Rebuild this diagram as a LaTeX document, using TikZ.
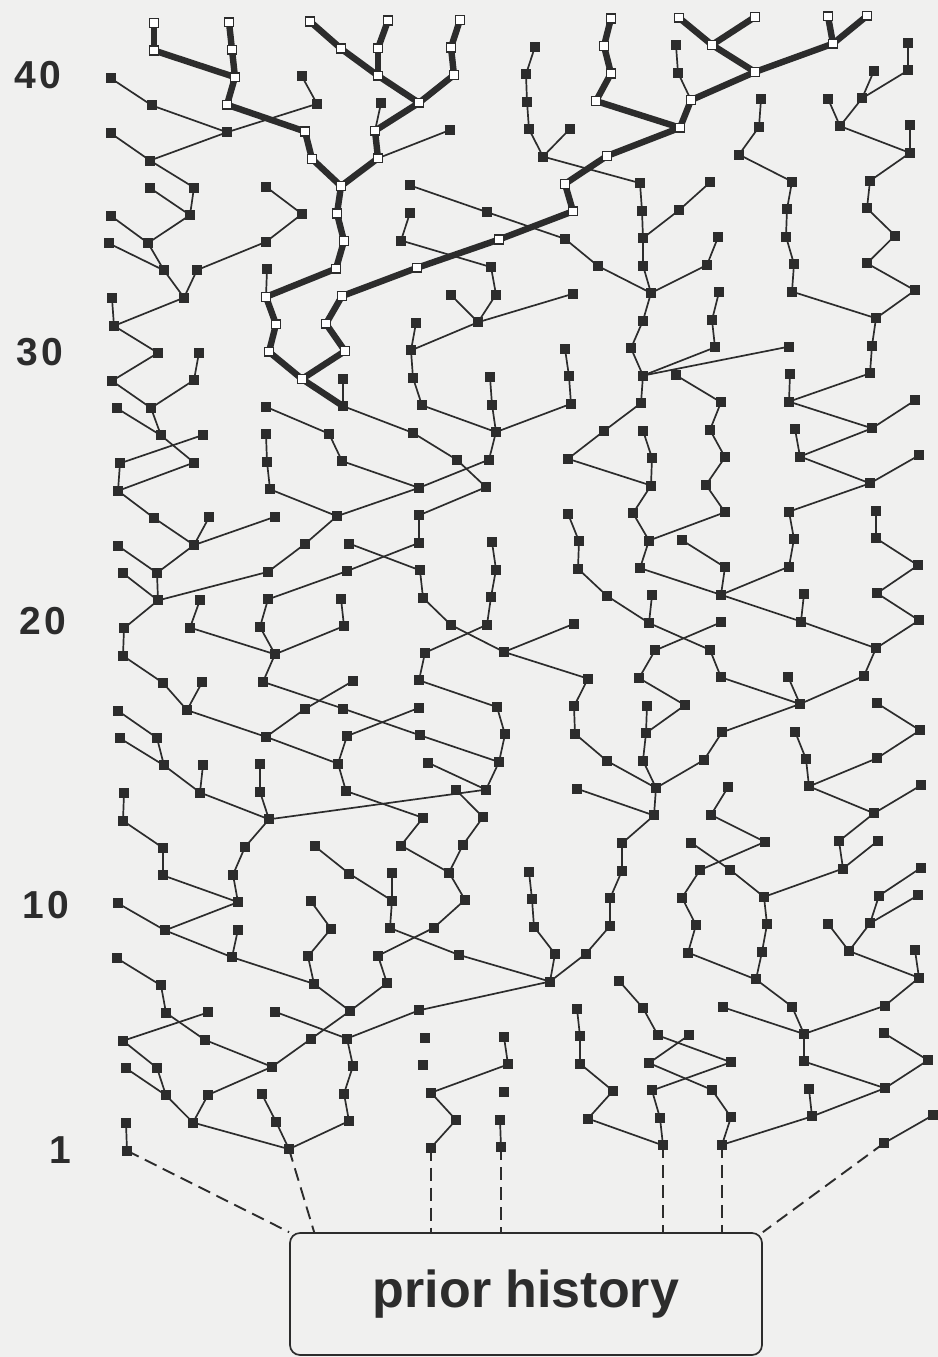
\documentclass[tikz,border=0pt]{standalone}
\usepackage{fontspec}
\setmainfont{Liberation Sans}
\usetikzlibrary{calc}
\definecolor{paper}{HTML}{F0F0EF}
\definecolor{ink}{HTML}{2C2C2C}
\pgfdeclarelayer{paperlayer}
\pgfdeclarelayer{edgelayer}
\pgfsetlayers{paperlayer,edgelayer,main}
\tikzset{
  sqb/.style={rectangle, fill=ink, inner sep=0pt, minimum width=5.4pt, minimum height=5pt},
  sqw/.style={rectangle, fill=white, draw=ink, line width=0.75pt, inner sep=0pt, minimum width=4.7pt, minimum height=4.4pt},
  thn/.style={draw=ink, line width=0.85pt},
  thk/.style={draw=ink, line width=3.2pt},
  dsh/.style={draw=ink, line width=0.95pt, dash pattern=on 6.5pt off 3.5pt},
  lbl/.style={font=\bfseries\fontsize{19.5}{20}\selectfont, text=ink, inner sep=0pt},
  pbox/.style={draw=ink, line width=0.85pt, rounded corners=5pt, minimum width=236pt, minimum height=61pt, inner sep=0pt,
    font=\bfseries\fontsize{26}{27}\selectfont, text=ink}
}
\newcommand\RowData[2]{\expandafter\def\csname rd#1\endcsname{#2}}
\RowData{42}{154/154/1,229/232/1,310/341/1,388/378/1,460/451/1,611/604/1,679/712/1,755/712/1,828/833/1,867/833/1}
\RowData{41}{154/235/1,232/235/1,341/378/1,378/378/1,451/454/1,535/526/0,604/611/1,676/678/0,712/755/1,833/755/1,908/908/0}
\RowData{40}{111/152/0,235/227/1,302/317/0,378/419/1,454/419/1,526/527/0,611/596/1,678/691/0,755/691/1,874/862/0,908/862/0}
\RowData{39}{152/227/0,227/305/1,317/227/0,381/375/0,419/375/1,527/529/0,596/680/1,691/680/1,761/759/0,828/840/0,862/840/0}
\RowData{38}{111/150/0,227/150/0,305/312/1,375/378/1,450/378/0,529/543/0,570/543/0,680/607/1,759/739/0,840/910/0,910/910/0}
\RowData{37}{150/194/0,312/341/1,378/341/1,543/640/0,607/565/1,739/792/0,910/870/0}
\RowData{36}{150/190/0,194/190/0,266/302/0,341/337/1,410/487/0,565/573/1,640/642/0,710/679/0,792/787/0,870/867/0}
\RowData{35}{111/148/0,190/148/0,302/266/0,337/344/1,410/401/0,487/565/0,573/499/1,642/643/0,679/643/0,787/786/0,867/895/0}
\RowData{34}{109/164/0,148/164/0,266/197/0,344/336/1,401/491/0,499/417/1,565/598/0,643/643/0,718/707/0,786/794/0,895/867/0}
\RowData{33}{164/184/0,197/184/0,267/266/0,336/266/1,417/342/1,491/496/0,598/651/0,643/651/0,707/651/0,794/792/0,867/915/0}
\RowData{32}{112/114/0,184/114/0,266/276/1,342/326/1,451/478/0,496/478/0,573/478/0,651/643/0,719/712/0,792/876/0,915/876/0}
\RowData{31}{114/158/0,276/269/1,326/345/1,416/411/0,478/411/0,643/631/0,712/715/0,876/872/0}
\RowData{30}{158/112/0,199/194/0,269/302/1,345/302/1,411/413/0,565/569/0,631/643/0,715/643/0,789/643/0,872/870/0}
\RowData{29}{112/151/0,194/151/0,302/343/1,343/343/0,413/422/0,490/492/0,569/571/0,643/641/0,676/721/0,790/789/0,870/789/0}
\RowData{28}{117/161/0,151/161/0,266/329/0,343/413/0,422/496/0,492/496/0,571/496/0,641/604/0,721/710/0,789/872/0,915/872/0}
\RowData{27}{161/194/0,203/120/0,266/267/0,329/342/0,413/457/0,496/489/0,604/568/0,643/652/0,710/725/0,795/800/0,872/800/0}
\RowData{26}{120/118/0,194/118/0,267/270/0,342/419/0,457/486/0,489/419/0,568/651/0,652/651/0,725/706/0,800/870/0,919/870/0}
\RowData{25}{118/154/0,270/337/0,419/337/0,486/419/0,651/633/0,706/725/0,870/789/0}
\RowData{24}{154/194/0,209/194/0,275/194/0,337/305/0,419/419/0,568/579/0,633/649/0,725/649/0,789/794/0,876/876/0}
\RowData{23}{118/157/0,194/157/0,305/268/0,349/420/0,419/347/0,492/496/0,579/578/0,649/640/0,682/725/0,794/789/0,876/918/0}
\RowData{22}{123/158/0,157/158/0,268/158/0,347/268/0,420/423/0,496/491/0,578/607/0,640/721/0,725/721/0,789/721/0,918/877/0}
\RowData{21}{158/124/0,200/190/0,268/260/0,341/344/0,423/451/0,491/487/0,607/649/0,652/649/0,721/801/0,804/801/0,877/919/0}
\RowData{20}{124/123/0,190/275/0,260/275/0,344/275/0,451/504/0,487/425/0,574/504/0,649/710/0,721/655/0,801/876/0,919/876/0}
\RowData{19}{123/163/0,275/263/0,425/419/0,504/588/0,655/639/0,710/721/0,876/864/0}
\RowData{18}{163/187/0,202/187/0,263/343/0,353/305/0,419/497/0,588/574/0,639/685/0,721/800/0,788/800/0,864/800/0}
\RowData{17}{118/157/0,187/266/0,305/266/0,343/420/0,419/347/0,497/505/0,574/575/0,647/646/0,685/646/0,800/722/0,877/920/0}
\RowData{16}{120/164/0,157/164/0,266/338/0,347/338/0,420/499/0,505/499/0,575/607/0,646/643/0,722/704/0,795/806/0,920/877/0}
\RowData{15}{164/200/0,203/200/0,260/260/0,338/346/0,428/486/0,499/486/0,607/656/0,643/656/0,704/656/0,806/809/0,877/809/0}
\RowData{14}{124/123/0,200/269/0,260/269/0,346/423/0,456/483/0,486/269/0,577/654/0,656/654/0,728/711/0,809/874/0,921/874/0}
\RowData{13}{123/163/0,269/245/0,423/401/0,483/463/0,654/622/0,711/765/0,874/839/0}
\RowData{12}{163/163/0,245/233/0,315/349/0,401/449/0,463/449/0,622/622/0,691/730/0,765/700/0,839/843/0,878/843/0}
\RowData{11}{163/238/0,233/238/0,349/392/0,392/392/0,449/465/0,529/532/0,622/610/0,700/682/0,730/764/0,843/764/0,921/879/0}
\RowData{10}{118/165/0,238/165/0,311/331/0,392/390/0,465/434/0,532/534/0,610/610/0,682/696/0,764/767/0,879/870/0,918/870/0}
\RowData{9}{165/232/0,238/232/0,331/308/0,390/459/0,434/378/0,534/555/0,610/586/0,696/688/0,767/762/0,828/849/0,870/849/0}
\RowData{8}{117/161/0,232/314/0,308/314/0,378/387/0,459/550/0,555/550/0,586/550/0,688/756/0,762/756/0,849/919/0,915/919/0}
\RowData{7}{161/166/0,314/350/0,387/350/0,550/419/0,619/643/0,756/792/0,919/885/0}
\RowData{6}{166/205/0,208/123/0,275/347/0,350/311/0,419/347/0,577/580/0,643/658/0,723/804/0,792/804/0,885/804/0}
\RowData{5}{123/157/0,205/272/0,311/272/0,347/353/0,425/0/0,504/508/0,580/580/0,658/731/0,689/649/0,804/804/0,884/928/0}
\RowData{4}{126/166/0,157/166/0,272/208/0,353/344/0,423/0/0,508/431/0,580/613/0,649/712/0,731/652/0,804/885/0,928/885/0}
\RowData{3}{166/193/0,208/193/0,262/276/0,344/349/0,431/456/0,504/0/0,613/588/0,652/660/0,712/731/0,809/812/0,885/812/0}
\RowData{2}{126/127/0,193/289/0,276/289/0,349/289/0,456/431/0,500/501/0,588/663/0,660/663/0,731/722/0,812/722/0,933/884/0}
\RowData{1}{127/0/0,289/0/0,431/0/0,501/0/0,663/0/0,722/0/0,884/0/0}
\begin{document}
\begin{tikzpicture}[x=0.5pt,y=0.5pt]
\useasboundingbox (0,0) rectangle (938,-1357);
\begin{pgfonlayer}{paperlayer}
  \fill[paper] (0,0) rectangle (938,-1357);
\end{pgfonlayer}
% nodes
\foreach \rw in {1,...,42}{
  \expandafter\let\expandafter\curlist\csname rd\rw\endcsname
  \foreach \cx/\cp/\ct in \curlist {
    \pgfmathsetmacro\cy{-1147+(\rw-1)*27.5+0.01*(\cx-500)}
    \ifnum\ct=1
      \node[sqw] (n\rw-\cx) at (\cx,\cy) {};
    \else
      \node[sqb] (n\rw-\cx) at (\cx,\cy) {};
    \fi
  }
}
% connectors
\begin{pgfonlayer}{edgelayer}
\foreach \rw in {2,...,42}{
  \pgfmathtruncatemacro\prw{\rw-1}
  \expandafter\let\expandafter\curlist\csname rd\rw\endcsname
  \foreach \cx/\cp/\ct in \curlist {
    \ifnum\cp>0
      \ifnum\ct=1
        \draw[thk] (n\rw-\cx.center) -- (n\prw-\cp.center);
      \else
        \draw[thn] (n\rw-\cx.center) -- (n\prw-\cp.center);
      \fi
    \fi
  }
}
\end{pgfonlayer}
% generation labels
\node[lbl] (l40) at (38,-75) {4\kern1.5pt0};
\node[lbl] (l30) at (40,-352) {3\kern1.5pt0};
\node[lbl] (l20) at (43,-621) {2\kern1.5pt0};
\node[lbl] (l10) at (46,-905) {1\kern1.5pt0};
\node[lbl] (l1) at (60,-1150) {1};
% prior history
\node[pbox] (box) at (526,-1294) {prior history};
\coordinate (d1) at (box.north west);
\coordinate (d2) at ($(box.north west)+(25,0)$);
\coordinate (d7) at (box.north east);
\begin{pgfonlayer}{edgelayer}
\draw[dsh] (n1-127.center) -- (d1);
\draw[dsh] (n1-289.center) -- (d2);
\draw[dsh] (n1-431.center) -- (n1-431.center |- box.north);
\draw[dsh] (n1-501.center) -- (n1-501.center |- box.north);
\draw[dsh] (n1-663.center) -- (n1-663.center |- box.north);
\draw[dsh] (n1-722.center) -- (n1-722.center |- box.north);
\draw[dsh] (n1-884.center) -- (d7);
\end{pgfonlayer}
\end{tikzpicture}
\end{document}
